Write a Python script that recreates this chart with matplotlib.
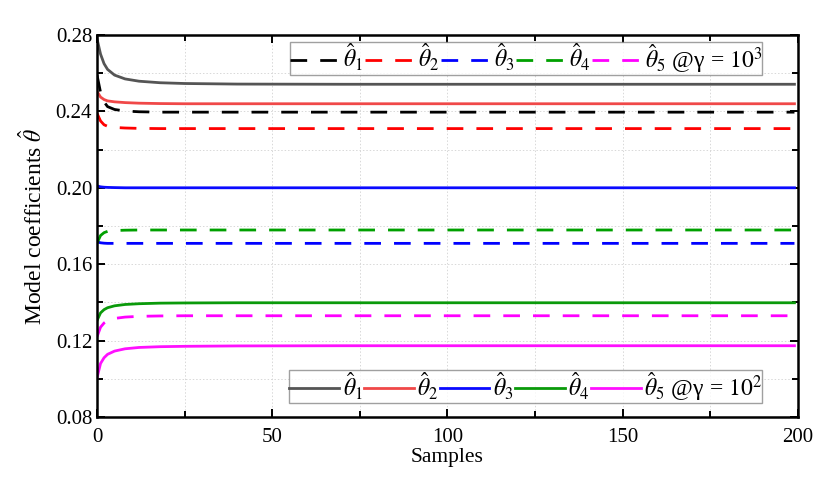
import numpy as np
import matplotlib
matplotlib.use("Agg")
import matplotlib.pyplot as plt
from matplotlib.ticker import MultipleLocator, FormatStrFormatter

plt.rcParams.update({
    "font.family": "Liberation Serif",
    "mathtext.fontset": "stix",
    "font.size": 14,
})

# ---- data ----
samples = [0, 1, 2, 3, 5, 8, 12, 18, 25, 40, 70, 120, 199]

# gamma = 1e2 (solid)
th1_g2 = [0.2780, 0.2700, 0.2650, 0.2620, 0.2590, 0.2570, 0.2558, 0.2550, 0.2546, 0.2543, 0.2542, 0.2542, 0.2542]
th2_g2 = [0.2505, 0.2475, 0.2462, 0.2455, 0.2450, 0.2446, 0.2443, 0.2441, 0.2440, 0.2440, 0.2440, 0.2440, 0.2440]
th3_g2 = [0.2010, 0.2005, 0.2003, 0.2002, 0.2001, 0.2000, 0.2000, 0.2000, 0.2000, 0.2000, 0.2000, 0.2000, 0.2000]
th4_g2 = [0.1305, 0.1345, 0.1362, 0.1372, 0.1382, 0.1389, 0.1393, 0.1396, 0.1397, 0.1398, 0.1398, 0.1398, 0.1398]
th5_g2 = [0.1005, 0.1080, 0.1110, 0.1128, 0.1145, 0.1157, 0.1164, 0.1168, 0.1170, 0.1172, 0.1173, 0.1173, 0.1173]

# gamma = 1e3 (dashed)
th1_g3 = [0.2590, 0.2500, 0.2450, 0.2425, 0.2410, 0.2402, 0.2398, 0.2396, 0.2396, 0.2396, 0.2396, 0.2396, 0.2396]
th2_g3 = [0.2390, 0.2350, 0.2330, 0.2322, 0.2316, 0.2313, 0.2311, 0.2310, 0.2310, 0.2310, 0.2310, 0.2310, 0.2310]
th3_g3 = [0.1718, 0.1712, 0.1710, 0.1709, 0.1709, 0.1709, 0.1709, 0.1709, 0.1709, 0.1709, 0.1709, 0.1709, 0.1709]
th4_g3 = [0.1710, 0.1750, 0.1765, 0.1772, 0.1776, 0.1778, 0.1779, 0.1779, 0.1779, 0.1779, 0.1779, 0.1779, 0.1779]
th5_g3 = [0.1220, 0.1270, 0.1292, 0.1305, 0.1316, 0.1323, 0.1327, 0.1329, 0.1330, 0.1330, 0.1330, 0.1330, 0.1330]

labels = [r"$\hat{\theta}_1$", r"$\hat{\theta}_2$", r"$\hat{\theta}_3$", r"$\hat{\theta}_4$", r"$\hat{\theta}_5$"]
solid_cols = ["#555555", "#f04848", "#0a0aff", "#0a9a0a", "#ff10ff"]
dash_cols = ["#000000", "#ff0000", "#0000ff", "#00a000", "#ff00ff"]

fig = plt.figure(figsize=(8.3, 4.82), dpi=100)
ax = fig.add_axes([0.1169, 0.1349, 0.8445, 0.7925])

dashed = [th1_g3, th2_g3, th3_g3, th4_g3, th5_g3]
solid = [th1_g2, th2_g2, th3_g2, th4_g2, th5_g2]

hd = []
for i, ys in enumerate(dashed):
    lab = labels[i] + (" @γ = $10^3$" if i == 4 else "")
    l, = ax.plot(samples, ys, color=dash_cols[i], lw=2.0, dashes=(6, 4.7), label=lab)
    hd.append(l)
hs = []
for i, ys in enumerate(solid):
    lab = labels[i] + (" @γ = $10^2$" if i == 4 else "")
    l, = ax.plot(samples, ys, color=solid_cols[i], lw=2.0, label=lab)
    hs.append(l)

ax.set_xlim(0, 200)
ax.set_ylim(0.08, 0.28)
ax.xaxis.set_major_locator(MultipleLocator(50))
ax.xaxis.set_minor_locator(MultipleLocator(25))
ax.yaxis.set_major_locator(MultipleLocator(0.04))
ax.yaxis.set_minor_locator(MultipleLocator(0.02))
ax.yaxis.set_major_formatter(FormatStrFormatter("%.2f"))
ax.tick_params(which="both", direction="in", top=True, right=True, labelsize=15, width=1.4)
ax.tick_params(which="major", length=6)
ax.tick_params(which="minor", length=4)
ax.tick_params(axis="x", pad=8)
ax.grid(which="both", color="#d8d8d8", ls=(0, (1.5, 2)), lw=0.7)
ax.set_axisbelow(True)
for s in ax.spines.values():
    s.set_linewidth(1.8)

ax.set_xlabel("Samples", fontsize=15.5, labelpad=1)
ax.set_ylabel(r"Model coefficients $\hat{\theta}$", fontsize=17, labelpad=6)

common = dict(ncol=5, fontsize=17, handlelength=2.1, handletextpad=0.15, columnspacing=0.05,
              frameon=True, fancybox=False, edgecolor="#888888", borderpad=0.0,
              borderaxespad=0.0)
leg1 = ax.legend(handles=hd, loc="upper right", bbox_to_anchor=(0.949, 0.982), **common)
leg1.get_frame().set_linewidth(1.0)
ax.add_artist(leg1)
leg2 = ax.legend(handles=hs, loc="lower right", bbox_to_anchor=(0.949, 0.036), **common)
leg2.get_frame().set_linewidth(1.0)

fig.savefig("out.png", dpi=100)
